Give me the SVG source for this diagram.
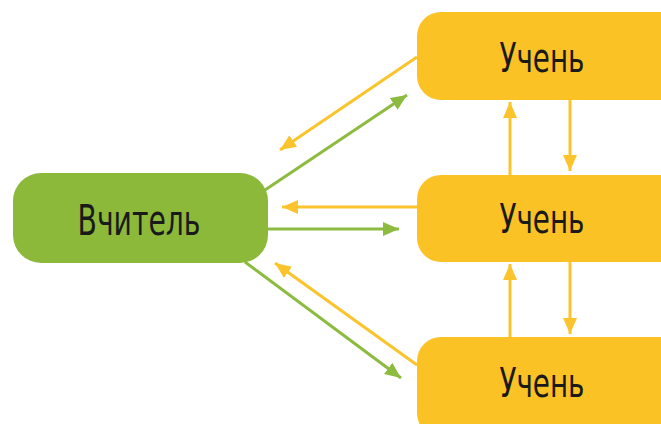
<svg xmlns="http://www.w3.org/2000/svg" width="661" height="424" viewBox="0 0 661 424">
<defs>
<style>
.t{fill:#8cb93a}
.s{fill:#fbc226}
.lbl{font-family:"DejaVu Sans Condensed","DejaVu Sans",sans-serif;fill:#1a1a1a;text-anchor:middle}
.g{stroke:#8cbb3f;stroke-width:3;fill:none}
.y{stroke:#fbc42c;stroke-width:3;fill:none}
</style>
<marker id="ag" markerUnits="userSpaceOnUse" markerWidth="18" markerHeight="14" refX="16" refY="7" orient="auto"><path d="M0,0 L16,7 L0,14 Z" fill="#8cbb3f"/></marker>
<marker id="ay" markerUnits="userSpaceOnUse" markerWidth="18" markerHeight="14" refX="16" refY="7" orient="auto"><path d="M0,0 L16,7 L0,14 Z" fill="#fbc42c"/></marker>
</defs>
<rect width="661" height="424" fill="#ffffff"/>
<g id="connectors">
<line class="y" x1="417" y1="57" x2="280" y2="150" marker-end="url(#ay)"/>
<line class="g" x1="265" y1="190" x2="407" y2="95" marker-end="url(#ag)"/>
<line class="y" x1="418" y1="207" x2="282" y2="207" marker-end="url(#ay)"/>
<line class="g" x1="268" y1="229" x2="399" y2="229" marker-end="url(#ag)"/>
<line class="g" x1="245" y1="262" x2="401" y2="378" marker-end="url(#ag)"/>
<line class="y" x1="417" y1="365" x2="275" y2="263" marker-end="url(#ay)"/>
<line class="y" x1="510" y1="175" x2="510" y2="102" marker-end="url(#ay)"/>
<line class="y" x1="570" y1="100" x2="570" y2="171" marker-end="url(#ay)"/>
<line class="y" x1="510" y1="337" x2="510" y2="264" marker-end="url(#ay)"/>
<line class="y" x1="570" y1="262" x2="570" y2="334" marker-end="url(#ay)"/>
</g>
<g id="teacher">
<rect class="t" x="13" y="173" width="255" height="90" rx="28"/>
<text class="lbl" x="139" y="235" font-size="43" textLength="123" lengthAdjust="spacingAndGlyphs">Вчитель</text>
</g>
<g id="student1">
<rect class="s" x="417" y="12" width="270" height="88" rx="24"/>
<text class="lbl" x="542" y="72" font-size="41" textLength="85" lengthAdjust="spacingAndGlyphs">Учень</text>
</g>
<g id="student2">
<rect class="s" x="417" y="175" width="270" height="87" rx="24"/>
<text class="lbl" x="542" y="233" font-size="41" textLength="85" lengthAdjust="spacingAndGlyphs">Учень</text>
</g>
<g id="student3">
<rect class="s" x="417" y="337" width="270" height="100" rx="24"/>
<text class="lbl" x="542" y="397" font-size="41" textLength="85" lengthAdjust="spacingAndGlyphs">Учень</text>
</g>
</svg>
